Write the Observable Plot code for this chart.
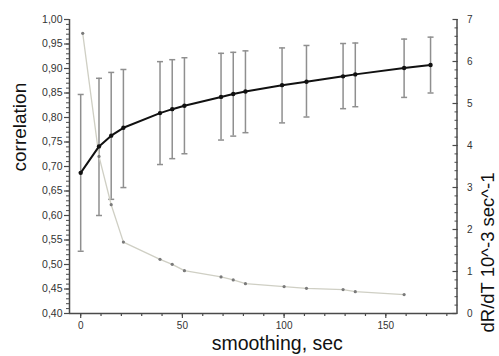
<!DOCTYPE html>
<html>
<head>
<meta charset="utf-8">
<script src="https://cdn.jsdelivr.net/npm/d3@7"></script>
<script src="https://cdn.jsdelivr.net/npm/@observablehq/plot@0.6"></script>
<style>
  html, body { margin: 0; padding: 0; background: #fff; }
  #chart svg { display: block; }
</style>
</head>
<body>
<div id="chart"></div>
<script>
// Correlation series (left axis), with error bars
const smoothing = [0, 9, 15, 21, 39, 45, 51, 69, 75, 81, 99, 111, 129, 135, 159, 172];
const corr   = [0.687, 0.741, 0.763, 0.779, 0.809, 0.817, 0.824, 0.842, 0.848, 0.853, 0.866, 0.873, 0.884, 0.888, 0.901, 0.907];
const corrHi = [0.847, 0.880, 0.892, 0.898, 0.914, 0.918, 0.922, 0.931, 0.933, 0.936, 0.942, 0.947, 0.951, 0.952, 0.960, 0.964];
const corrLo = [0.527, 0.600, 0.633, 0.657, 0.704, 0.716, 0.726, 0.754, 0.762, 0.769, 0.789, 0.801, 0.818, 0.822, 0.841, 0.850];

// dR/dT series (right axis)
const smoothing2 = [1, 9, 15, 21, 39, 45, 51, 69, 75, 81, 100, 111, 129, 135, 159];
const dRdT = [6.67, 3.74, 2.59, 1.70, 1.29, 1.17, 1.02, 0.87, 0.80, 0.71, 0.64, 0.60, 0.57, 0.52, 0.45];

// Axis ticks
const xTicks = [0, 50, 100, 150];
const xMinorTicks = [0, 10, 20, 30, 40, 50, 60, 70, 80, 90, 100, 110, 120, 130, 140, 150, 160, 170, 180];
const leftTicks = [0.40, 0.45, 0.50, 0.55, 0.60, 0.65, 0.70, 0.75, 0.80, 0.85, 0.90, 0.95, 1.00];
const rightTicks = [0, 1, 2, 3, 4, 5, 6, 7];

const xDomain = [-5.5, 185];
const yDomain = [0.40, 1.00];
const rightDomain = [0, 7];

// map right-axis values onto the left (correlation) scale
const toLeft = d3.scaleLinear(rightDomain, yDomain);

const leftMinor = d3.range(0, 61).map(i => +(0.40 + i * 0.01).toFixed(2));
const rightMinor = d3.range(0, 36).map(i => toLeft(i * 0.2));

const corrData = smoothing.map((s, i) => ({x: s, y: corr[i], lo: corrLo[i], hi: corrHi[i]}));
const rateData = smoothing2.map((s, i) => ({x: s, y: toLeft(dRdT[i])}));

const capSymbol = {
  draw(context, size) {
    const w = Math.sqrt(size / Math.PI);
    context.moveTo(-w, 0);
    context.lineTo(w, 0);
  }
};

const axisColor = "#4a4a4a";
const font = "Liberation Sans, Arial, sans-serif";

const chart = Plot.plot({
  width: 499,
  height: 356,
  marginLeft: 69,
  marginRight: 42.5,
  marginTop: 19,
  marginBottom: 43,
  style: {fontFamily: font, background: "#fff", overflow: "visible"},
  x: {domain: xDomain},
  y: {domain: yDomain},
  marks: [
    // error bars
    Plot.ruleX(corrData, {x: "x", y1: "lo", y2: "hi", stroke: "#8f8f8f", strokeWidth: 1.5}),
    Plot.dot(corrData, {x: "x", y: "hi", symbol: capSymbol, r: 3, stroke: "#8f8f8f", strokeWidth: 1.5, fill: "none"}),
    Plot.dot(corrData, {x: "x", y: "lo", symbol: capSymbol, r: 3, stroke: "#8f8f8f", strokeWidth: 1.5, fill: "none"}),
    // dR/dT line
    Plot.line(rateData, {x: "x", y: "y", stroke: "#cfcfc4", strokeWidth: 1.3}),
    Plot.dot(rateData, {x: "x", y: "y", r: 1.6, fill: "#7a7a7a", stroke: "none"}),
    // correlation line
    Plot.line(corrData, {x: "x", y: "y", stroke: "#111", strokeWidth: 2}),
    Plot.dot(corrData, {x: "x", y: "y", r: 2.2, fill: "#111", stroke: "none"}),
    // axis lines
    Plot.ruleX([xDomain[0], xDomain[1]], {stroke: axisColor, strokeWidth: 1.5}),
    Plot.ruleY([yDomain[0]], {stroke: axisColor, strokeWidth: 1.5}),
    // left axis
    Plot.axisY({anchor: "left", ticks: leftTicks, tickSize: 5, tickPadding: 2,
      tickFormat: d => d.toFixed(2).replace(".", ","), fontSize: 10.5, fill: "#333",
      stroke: axisColor, strokeWidth: 1.2, label: null}),
    Plot.axisY({anchor: "left", ticks: leftMinor, tickSize: 3, tickFormat: () => "",
      stroke: axisColor, strokeWidth: 1, label: null}),
    // right axis (inward ticks)
    Plot.axisY({anchor: "right", ticks: rightTicks.map(toLeft), tickSize: 5, dx: -5,
      tickFormat: () => "", stroke: axisColor, strokeWidth: 1.2, label: null}),
    Plot.axisY({anchor: "right", ticks: rightMinor, tickSize: 3, dx: -3,
      tickFormat: () => "", stroke: axisColor, strokeWidth: 1, label: null}),
    Plot.axisY({anchor: "right", ticks: rightTicks.map(toLeft), tickSize: 0, tickPadding: 10,
      tickFormat: d => String(Math.round(toLeft.invert(d))), fontSize: 10, fill: "#333", label: null}),
    // bottom axis
    Plot.axisX({anchor: "bottom", ticks: xTicks, tickSize: 5, tickPadding: 3,
      tickFormat: d => String(d), fontSize: 10, fill: "#333",
      stroke: axisColor, strokeWidth: 1.2, label: null}),
    Plot.axisX({anchor: "bottom", ticks: xMinorTicks, tickSize: 3, tickFormat: () => "",
      stroke: axisColor, strokeWidth: 1.2, label: null}),
    // axis titles
    Plot.text(["correlation"], {text: d => d, frameAnchor: "left", rotate: -90, dx: -50, dy: 5,
      fontSize: 19, fill: "#111", fontFamily: font}),
    Plot.text(["dR/dT 10^-3 sec^-1"], {text: d => d, frameAnchor: "right", rotate: -90, dx: 31, dy: 6,
      fontSize: 18.5, fill: "#111", fontFamily: font}),
    Plot.text(["smoothing, sec"], {text: d => d, frameAnchor: "bottom", dx: 14, dy: 36.5,
      fontSize: 19.5, fill: "#111", fontFamily: font})
  ]
});

document.getElementById("chart").appendChild(chart);
</script>
</body>
</html>
